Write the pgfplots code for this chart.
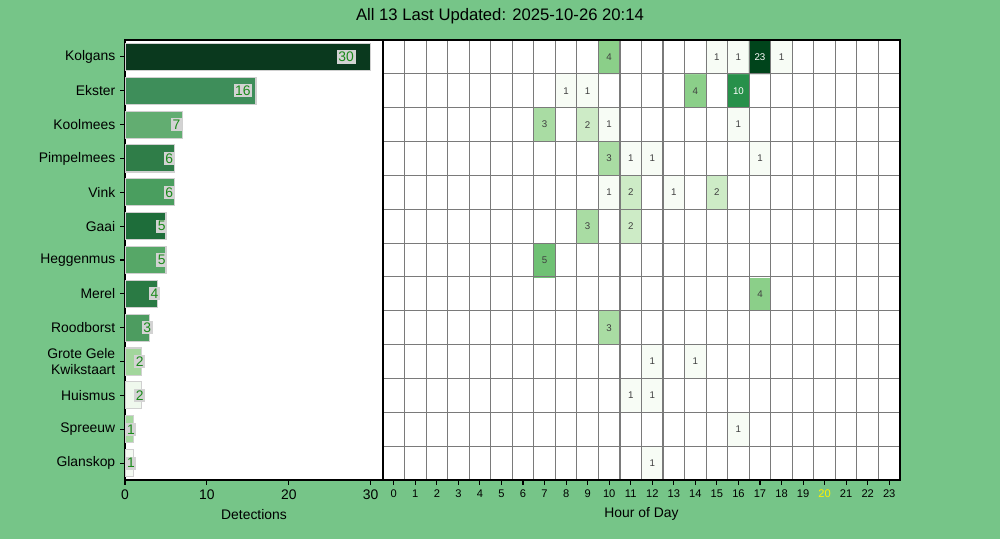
\documentclass[border=0pt]{standalone}
\usepackage{pgfplots}
\pgfplotsset{compat=1.18}
\usepackage{fontspec}
\setmainfont{Liberation Sans}
\definecolor{bg}{HTML}{76C588}
\definecolor{edge}{HTML}{D0D0D0}
\definecolor{lblbox}{HTML}{D3D3D3}
\definecolor{lbltxt}{HTML}{1A8A1A}
\definecolor{b1}{HTML}{0A391E}
\definecolor{b2}{HTML}{3E8E5A}
\definecolor{b3}{HTML}{62AD71}
\definecolor{b4}{HTML}{2F7D48}
\definecolor{b5}{HTML}{4A9E5F}
\definecolor{b6}{HTML}{1E6D3A}
\definecolor{b7}{HTML}{56A767}
\definecolor{b8}{HTML}{2A7A44}
\definecolor{b9}{HTML}{4D9C60}
\definecolor{b10}{HTML}{A2D69C}
\definecolor{b11}{HTML}{EFF8ED}
\definecolor{b12}{HTML}{A5D99F}
\definecolor{b13}{HTML}{F4FAF2}
\definecolor{h1}{HTML}{F7FCF5}
\definecolor{h2}{HTML}{CDEBC6}
\definecolor{h3}{HTML}{A9DCA3}
\definecolor{h4}{HTML}{8BCF89}
\definecolor{h5}{HTML}{6FC174}
\definecolor{h10}{HTML}{27904A}
\definecolor{h23}{HTML}{00441B}
\definecolor{gridgray}{HTML}{7A7A7A}
\pgfplotsset{
  colormap={heat}{color(0cm)=(white) color(1cm)=(h1) color(2cm)=(h2) color(3cm)=(h3) color(4cm)=(h4) color(5cm)=(h5) color(10cm)=(h10) color(23cm)=(h23)},
  barstyle/.style={xbar, bar shift=0pt, bar width=0.8, fill=#1, draw=edge, line width=0.8pt},
  celltext/.style={draw=none, mark=none, nodes near coords, point meta=explicit symbolic,
    nodes near coords align=center,
    every node near coord/.append style={anchor=center, font=\fontsize{7}{8}\selectfont, text=#1}},
}
\begin{document}
\begin{tikzpicture}
\fill[bg] (0,0) rectangle (720pt,388.08pt);
\useasboundingbox (0,0) rectangle (720pt,388.08pt);
\node[font=\fontsize{12}{14}\selectfont] at (360pt,376.6pt) {All 13 Last Updated: 2025-10-26 20:14};

\begin{axis}[
  at={(90pt,42.48pt)}, anchor=south west, scale only axis,
  width=185.76pt, height=316.8pt,
  xmin=0, xmax=31.5, ymin=-0.5, ymax=12.5,
  axis background/.style={fill=white},
  xtick={0,10,20,30}, ytick={0,...,12},
  yticklabels={Glanskop,Spreeuw,Huismus,{Grote Gele\\Kwikstaart},Roodborst,Merel,Heggenmus,Gaai,Vink,Pimpelmees,Koolmees,Ekster,Kolgans},
  yticklabel style={align=right, font=\fontsize{10}{11.5}\selectfont},
  xticklabel style={font=\fontsize{10}{11}\selectfont},
  /pgf/number format/assume math mode=true,
  tick align=outside, major tick length=3.5pt,
  tick style={black, line width=0.8pt},
  xtick pos=bottom, ytick pos=left,
  axis line style={line width=0.8pt},
  xlabel={Detections},
  xlabel style={font=\fontsize{10}{11}\selectfont},
]
\addplot[barstyle=b1] coordinates {(30,12)};
\addplot[barstyle=b2] coordinates {(16,11)};
\addplot[barstyle=b3] coordinates {(7,10)};
\addplot[barstyle=b4] coordinates {(6,9)};
\addplot[barstyle=b5] coordinates {(6,8)};
\addplot[barstyle=b6] coordinates {(5,7)};
\addplot[barstyle=b7] coordinates {(5,6)};
\addplot[barstyle=b8] coordinates {(4,5)};
\addplot[barstyle=b9] coordinates {(3,4)};
\addplot[barstyle=b10] coordinates {(2,3)};
\addplot[barstyle=b11] coordinates {(2,2)};
\addplot[barstyle=b12] coordinates {(1,1)};
\addplot[barstyle=b13] coordinates {(1,0)};
\addplot[draw=none, mark=none,
  nodes near coords={\color{lbltxt}\pgfplotspointmeta}, point meta=explicit symbolic,
  nodes near coords align=center,
  every node near coord/.append style={anchor=center, fill=lblbox, inner sep=1.2pt, font=\fontsize{10}{11}\selectfont}]
  coordinates {
  (27,12) [30]
  (14.4,11) [16]
  (6.3,10) [7]
  (5.4,9) [6]
  (5.4,8) [6]
  (4.5,7) [5]
  (4.5,6) [5]
  (3.6,5) [4]
  (2.7,4) [3]
  (1.8,3) [2]
  (1.8,2) [2]
  (0.72,1) [1]
  (0.72,0) [1]
  };
\end{axis}

\begin{axis}[
  at={(275.76pt,42.48pt)}, anchor=south west, scale only axis,
  width=372.24pt, height=316.8pt,
  xmin=-0.5, xmax=23.5, ymin=-0.5, ymax=12.5,
  axis background/.style={fill=white},
  colormap name=heat, point meta min=0, point meta max=23,
  xtick={0,...,23},
  xticklabels={0,1,2,3,4,5,6,7,8,9,10,11,12,13,14,15,16,17,18,19,{\color{yellow}20},21,22,23},
  ytick={-0.5,0.5,...,12.5}, yticklabels={},
  ytick style={draw=none},
  ymajorgrids=true,
  minor xtick={-0.5,0.5,...,23.5},
  xminorgrids=true,
  minor grid style={gridgray, line width=0.8pt},
  major grid style={gridgray, line width=0.8pt},
  minor tick length=0pt,
  axis on top,
  xticklabel style={font=\fontsize{8}{9}\selectfont},
  tick align=outside, major tick length=3.5pt,
  xtick style={black, line width=0.8pt},
  xtick pos=bottom,
  axis line style={line width=0.8pt},
  xlabel={Hour of Day},
  xlabel style={font=\fontsize{10}{11}\selectfont},
]
\addplot[matrix plot*, mesh/cols=24, mesh/rows=13, point meta=explicit]
  table[row sep=\\, meta=c] {
x y c\\
0 0 0\\ 1 0 0\\ 2 0 0\\ 3 0 0\\ 4 0 0\\ 5 0 0\\ 6 0 0\\ 7 0 0\\ 8 0 0\\ 9 0 0\\ 10 0 0\\ 11 0 0\\ 12 0 1\\ 13 0 0\\ 14 0 0\\ 15 0 0\\ 16 0 0\\ 17 0 0\\ 18 0 0\\ 19 0 0\\ 20 0 0\\ 21 0 0\\ 22 0 0\\ 23 0 0\\
0 1 0\\ 1 1 0\\ 2 1 0\\ 3 1 0\\ 4 1 0\\ 5 1 0\\ 6 1 0\\ 7 1 0\\ 8 1 0\\ 9 1 0\\ 10 1 0\\ 11 1 0\\ 12 1 0\\ 13 1 0\\ 14 1 0\\ 15 1 0\\ 16 1 1\\ 17 1 0\\ 18 1 0\\ 19 1 0\\ 20 1 0\\ 21 1 0\\ 22 1 0\\ 23 1 0\\
0 2 0\\ 1 2 0\\ 2 2 0\\ 3 2 0\\ 4 2 0\\ 5 2 0\\ 6 2 0\\ 7 2 0\\ 8 2 0\\ 9 2 0\\ 10 2 0\\ 11 2 1\\ 12 2 1\\ 13 2 0\\ 14 2 0\\ 15 2 0\\ 16 2 0\\ 17 2 0\\ 18 2 0\\ 19 2 0\\ 20 2 0\\ 21 2 0\\ 22 2 0\\ 23 2 0\\
0 3 0\\ 1 3 0\\ 2 3 0\\ 3 3 0\\ 4 3 0\\ 5 3 0\\ 6 3 0\\ 7 3 0\\ 8 3 0\\ 9 3 0\\ 10 3 0\\ 11 3 0\\ 12 3 1\\ 13 3 0\\ 14 3 1\\ 15 3 0\\ 16 3 0\\ 17 3 0\\ 18 3 0\\ 19 3 0\\ 20 3 0\\ 21 3 0\\ 22 3 0\\ 23 3 0\\
0 4 0\\ 1 4 0\\ 2 4 0\\ 3 4 0\\ 4 4 0\\ 5 4 0\\ 6 4 0\\ 7 4 0\\ 8 4 0\\ 9 4 0\\ 10 4 3\\ 11 4 0\\ 12 4 0\\ 13 4 0\\ 14 4 0\\ 15 4 0\\ 16 4 0\\ 17 4 0\\ 18 4 0\\ 19 4 0\\ 20 4 0\\ 21 4 0\\ 22 4 0\\ 23 4 0\\
0 5 0\\ 1 5 0\\ 2 5 0\\ 3 5 0\\ 4 5 0\\ 5 5 0\\ 6 5 0\\ 7 5 0\\ 8 5 0\\ 9 5 0\\ 10 5 0\\ 11 5 0\\ 12 5 0\\ 13 5 0\\ 14 5 0\\ 15 5 0\\ 16 5 0\\ 17 5 4\\ 18 5 0\\ 19 5 0\\ 20 5 0\\ 21 5 0\\ 22 5 0\\ 23 5 0\\
0 6 0\\ 1 6 0\\ 2 6 0\\ 3 6 0\\ 4 6 0\\ 5 6 0\\ 6 6 0\\ 7 6 5\\ 8 6 0\\ 9 6 0\\ 10 6 0\\ 11 6 0\\ 12 6 0\\ 13 6 0\\ 14 6 0\\ 15 6 0\\ 16 6 0\\ 17 6 0\\ 18 6 0\\ 19 6 0\\ 20 6 0\\ 21 6 0\\ 22 6 0\\ 23 6 0\\
0 7 0\\ 1 7 0\\ 2 7 0\\ 3 7 0\\ 4 7 0\\ 5 7 0\\ 6 7 0\\ 7 7 0\\ 8 7 0\\ 9 7 3\\ 10 7 0\\ 11 7 2\\ 12 7 0\\ 13 7 0\\ 14 7 0\\ 15 7 0\\ 16 7 0\\ 17 7 0\\ 18 7 0\\ 19 7 0\\ 20 7 0\\ 21 7 0\\ 22 7 0\\ 23 7 0\\
0 8 0\\ 1 8 0\\ 2 8 0\\ 3 8 0\\ 4 8 0\\ 5 8 0\\ 6 8 0\\ 7 8 0\\ 8 8 0\\ 9 8 0\\ 10 8 1\\ 11 8 2\\ 12 8 0\\ 13 8 1\\ 14 8 0\\ 15 8 2\\ 16 8 0\\ 17 8 0\\ 18 8 0\\ 19 8 0\\ 20 8 0\\ 21 8 0\\ 22 8 0\\ 23 8 0\\
0 9 0\\ 1 9 0\\ 2 9 0\\ 3 9 0\\ 4 9 0\\ 5 9 0\\ 6 9 0\\ 7 9 0\\ 8 9 0\\ 9 9 0\\ 10 9 3\\ 11 9 1\\ 12 9 1\\ 13 9 0\\ 14 9 0\\ 15 9 0\\ 16 9 0\\ 17 9 1\\ 18 9 0\\ 19 9 0\\ 20 9 0\\ 21 9 0\\ 22 9 0\\ 23 9 0\\
0 10 0\\ 1 10 0\\ 2 10 0\\ 3 10 0\\ 4 10 0\\ 5 10 0\\ 6 10 0\\ 7 10 3\\ 8 10 0\\ 9 10 2\\ 10 10 1\\ 11 10 0\\ 12 10 0\\ 13 10 0\\ 14 10 0\\ 15 10 0\\ 16 10 1\\ 17 10 0\\ 18 10 0\\ 19 10 0\\ 20 10 0\\ 21 10 0\\ 22 10 0\\ 23 10 0\\
0 11 0\\ 1 11 0\\ 2 11 0\\ 3 11 0\\ 4 11 0\\ 5 11 0\\ 6 11 0\\ 7 11 0\\ 8 11 1\\ 9 11 1\\ 10 11 0\\ 11 11 0\\ 12 11 0\\ 13 11 0\\ 14 11 4\\ 15 11 0\\ 16 11 10\\ 17 11 0\\ 18 11 0\\ 19 11 0\\ 20 11 0\\ 21 11 0\\ 22 11 0\\ 23 11 0\\
0 12 0\\ 1 12 0\\ 2 12 0\\ 3 12 0\\ 4 12 0\\ 5 12 0\\ 6 12 0\\ 7 12 0\\ 8 12 0\\ 9 12 0\\ 10 12 4\\ 11 12 0\\ 12 12 0\\ 13 12 0\\ 14 12 0\\ 15 12 1\\ 16 12 1\\ 17 12 23\\ 18 12 1\\ 19 12 0\\ 20 12 0\\ 21 12 0\\ 22 12 0\\ 23 12 0\\
};
\addplot[celltext=black!75] coordinates {
  (15,12) [1] (16,12) [1] (18,12) [1] (10,12) [4]
  (8,11) [1] (9,11) [1] (14,11) [4]
  (7,10) [3] (9,10) [2] (10,10) [1] (16,10) [1]
  (10,9) [3] (11,9) [1] (12,9) [1] (17,9) [1]
  (10,8) [1] (11,8) [2] (13,8) [1] (15,8) [2]
  (9,7) [3] (11,7) [2]
  (7,6) [5]
  (17,5) [4]
  (10,4) [3]
  (12,3) [1] (14,3) [1]
  (11,2) [1] (12,2) [1]
  (16,1) [1]
  (12,0) [1]
};
\addplot[celltext=white] coordinates {
  (16,11) [10] (17,12) [23]
};
\end{axis}
\end{tikzpicture}
\end{document}
